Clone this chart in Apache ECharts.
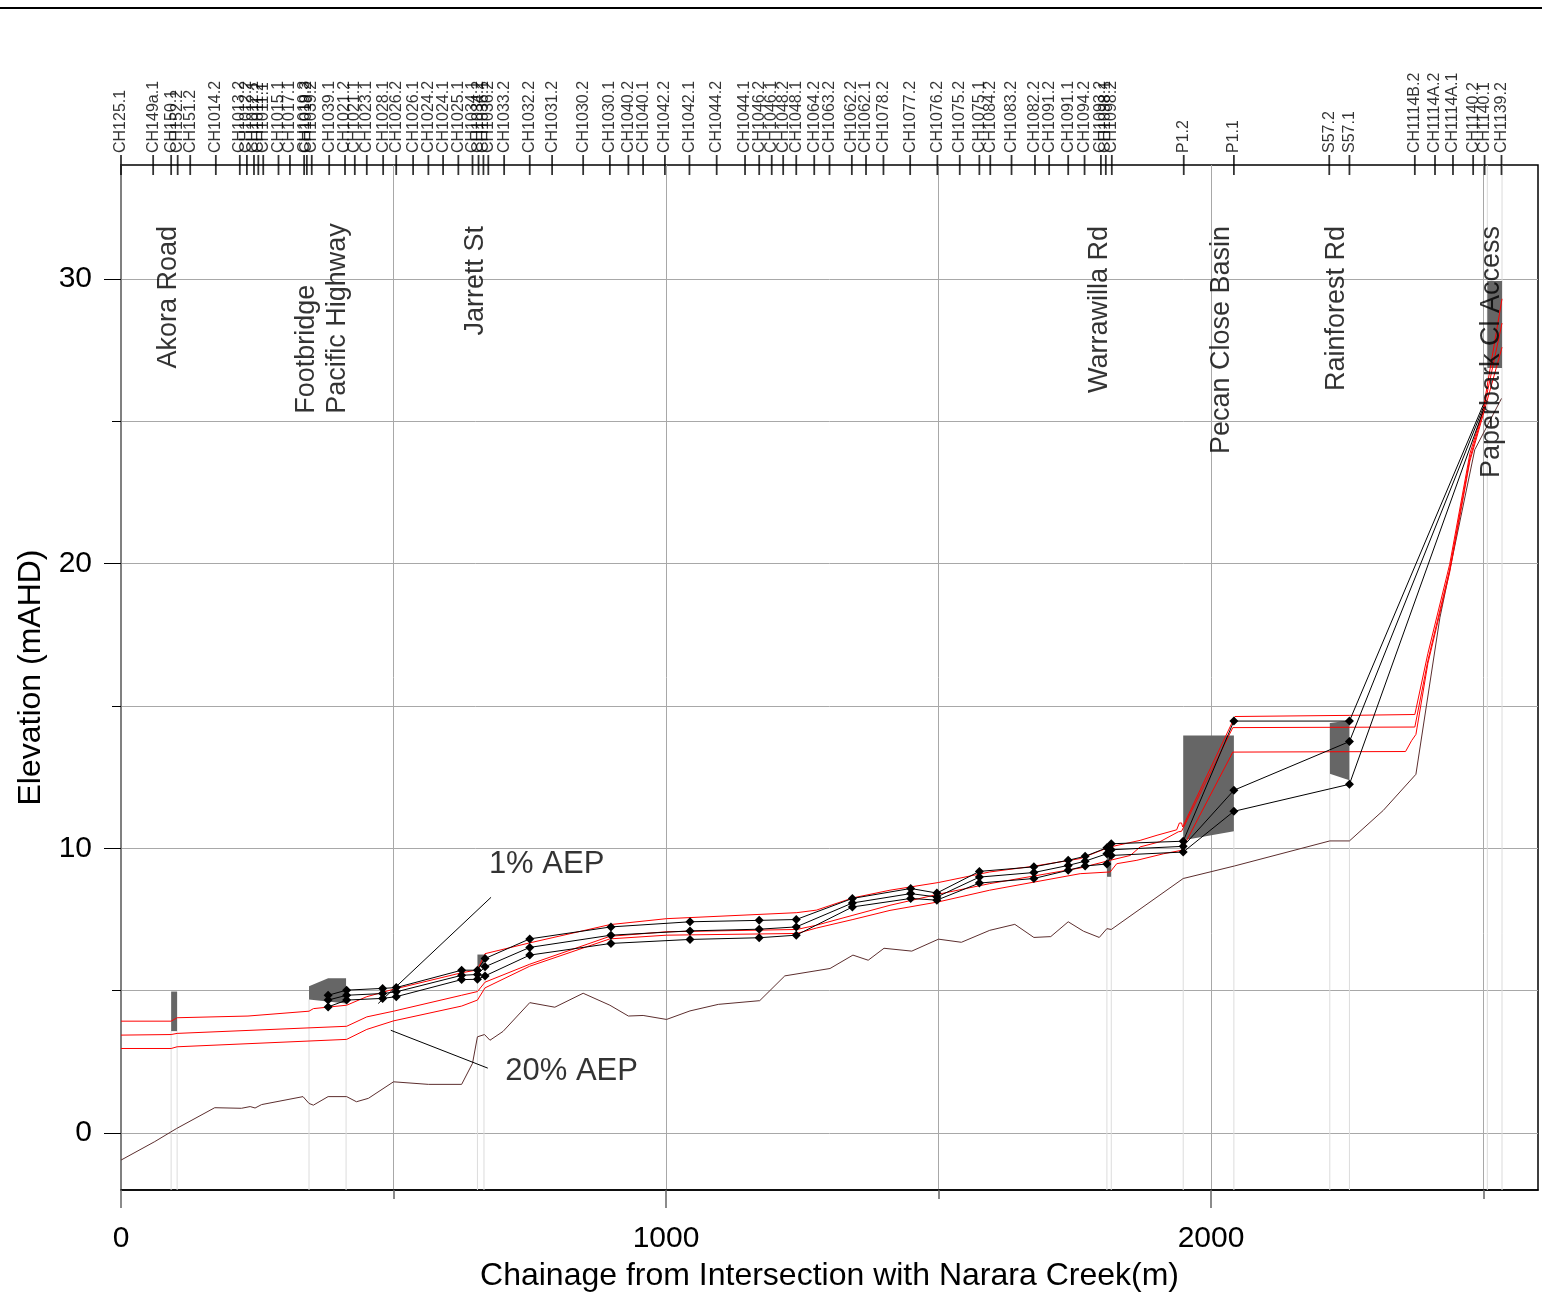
<!DOCTYPE html>
<html><head><meta charset="utf-8">
<script src="https://cdn.jsdelivr.net/npm/echarts@6/dist/echarts.min.js"></script>
<style>html,body{margin:0;padding:0;background:#fff}#c{width:1542px;height:1299px}</style>
</head><body><div id="c"></div>
<script>
const FONT = '"Liberation Sans", Arial, Helvetica, sans-serif';

// ---- Top chainage markers ----
const topNames = ['CH125.1','CH149a.1','CH150.1','CH152.2','CH151.2','CH1014.2','CH1013.2','CH1012.2','CH1012.1','CH1011.2','CH1011.1','CH1015.1','CH1017.1','CH1019.3','CH1019.2','CH1039.2','CH1039.1','CH1021.2','CH1021.1','CH1023.1','CH1028.1','CH1026.2','CH1026.1','CH1024.2','CH1024.1','CH1025.1','CH1034.1','CH1034.2','CH1036.1','CH1036.2','CH1033.2','CH1032.2','CH1031.2','CH1030.2','CH1030.1','CH1040.2','CH1040.1','CH1042.2','CH1042.1','CH1044.2','CH1044.1','CH1046.2','CH1046.1','CH1048.2','CH1048.1','CH1064.2','CH1063.2','CH1062.2','CH1062.1','CH1078.2','CH1077.2','CH1076.2','CH1075.2','CH1075.1','CH1084.2','CH1083.2','CH1082.2','CH1091.2','CH1091.1','CH1094.2','CH1093.2','CH1098.1','CH1098.2','P1.2','P1.1','S57.2','S57.1','CH1114B.2','CH1114A.2','CH1114A.1','CH1140.2','CH1140.1','CH1139.2'];
const topChainage = [0,59,92,104,127,174,218,231,244,252,261,289,310,336,341,350,382,411,429,451,481,505,536,564,591,619,645,656,665,674,703,750,791,848,897,931,958,998,1043,1093,1145,1171,1194,1215,1239,1272,1300,1341,1367,1399,1448,1498,1539,1575,1595,1634,1677,1703,1738,1768,1798,1807,1818,1950,2042,2217,2254,2374,2411,2444,2481,2502,2533];

// ---- Road / structure labels ----
const roadNames = ['Akora Road','Footbridge\nPacific Highway','Jarrett St','Warrawilla Rd','Pecan Close Basin','Rainforest Rd','Paperbark Cl Access'];
const roadChainage = [87,369,650,1796,2020,2231,2514];

// ---- Axis ticks / labels ----
const xLabelValues = [0,1000,2000];
const xTickValues = [0,500,1000,1500,2000,2500];
const yLabelValues = [0,10,20,30];
const yTickValues = [0,5,10,15,20,25,30];

// ---- Ground profile ----
const ground = [[0,-0.95],[62,-0.30],[102,0.16],[172,0.89],[221,0.87],[237,0.93],[246,0.88],[258,1.0],[334,1.28],[345,1.04],[353,0.98],[380,1.28],[414,1.28],[432,1.1],[454,1.22],[500,1.80],[564,1.71],[625,1.71],[645,2.45],[654,3.38],[667,3.46],[677,3.26],[701,3.57],[750,4.58],[796,4.42],[848,4.91],[897,4.49],[931,4.11],[958,4.13],[1001,3.99],[1044,4.29],[1096,4.52],[1172,4.65],[1218,5.52],[1301,5.78],[1343,6.25],[1371,6.07],[1400,6.49],[1451,6.39],[1500,6.81],[1542,6.70],[1594,7.12],[1640,7.33],[1675,6.87],[1706,6.90],[1738,7.42],[1766,7.09],[1795,6.87],[1809,7.18],[1817,7.15],[1949,8.94],[2043,9.38],[2218,10.26],[2254,10.26],[2316,11.33],[2376,12.60],[2420,18.1],[2484,24.0],[2533,25.8]];

// ---- Red flood level profiles ----
const red1 = [[0,3.93],[92,3.93],[103,4.05],[233,4.11],[345,4.28],[353,4.37],[414,4.49],[451,4.79],[500,5.05],[625,5.63],[654,5.73],[668,6.30],[750,6.68],[897,7.32],[1001,7.53],[1240,7.74],[1276,7.83],[1343,8.26],[1411,8.53],[1500,8.80],[1594,9.17],[1674,9.37],[1760,9.64],[1815,10.05],[1870,10.28],[1901,10.46],[1937,10.65],[1942,10.89],[1946,10.89],[1948,10.75],[2044,14.63],[2254,14.67],[2374,14.70],[2398,16.85],[2438,19.98],[2475,23.86],[2499,25.37],[2534,29.3]];
const red2 = [[0,3.44],[92,3.46],[103,3.50],[414,3.75],[451,4.08],[500,4.28],[625,4.84],[654,4.97],[668,5.30],[750,5.93],[897,6.91],[1001,7.07],[1240,7.15],[1276,7.30],[1343,7.65],[1411,8.0],[1500,8.39],[1594,8.76],[1760,9.31],[1815,9.58],[1852,9.75],[1870,10.05],[1906,10.23],[1940,10.58],[1946,10.6],[2040,14.24],[2374,14.26],[2398,16.6],[2438,19.8],[2475,23.7],[2499,25.3],[2534,28.45]];
const red3 = [[0,2.97],[92,2.97],[103,3.03],[414,3.29],[451,3.64],[500,3.94],[625,4.46],[654,4.67],[668,5.10],[750,5.86],[897,6.82],[1001,6.95],[1240,7.01],[1276,7.2],[1343,7.5],[1411,7.82],[1500,8.12],[1594,8.53],[1760,9.11],[1815,9.17],[1827,9.46],[1864,9.58],[1913,9.81],[1946,9.93],[2040,13.38],[2357,13.40],[2368,13.78],[2376,14.0],[2398,16.5],[2438,19.7],[2475,23.6],[2499,25.2],[2534,27.6]];

// ---- Black profiles with markers ----
const blackChainage = [380,414,480,505,625,654,668,750,899,1044,1171,1239,1342,1449,1497,1575,1675,1738,1769,1809,1817,1949,2042,2254,2500];
const black1 = [4.84,5.02,5.08,5.11,5.72,5.72,6.13,6.82,7.24,7.42,7.47,7.50,8.24,8.59,8.43,9.19,9.35,9.58,9.72,10.02,10.16,10.25,14.47,14.47,25.6];
const black2 = [4.67,4.84,4.90,4.96,5.54,5.57,5.84,6.52,6.95,7.10,7.16,7.24,8.08,8.41,8.29,8.99,9.15,9.40,9.55,9.81,9.95,10.07,12.04,13.75,25.5];
const black3 = [4.43,4.67,4.73,4.79,5.39,5.40,5.52,6.25,6.66,6.80,6.86,6.95,7.94,8.24,8.18,8.78,8.94,9.23,9.38,9.45,9.75,9.87,11.30,12.25,25.4];

// ---- Structures (grey polygons) ----
const structAkora = [[92,4.97],[103,4.97],[103,3.58],[92,3.58]];
const structFootbridge = [[345,5.16],[380,5.44],[413,5.44],[413,4.55],[345,4.69]];
const structJarrett = [[654,6.27],[666,6.27],[666,5.84],[654,5.84]];
const structWarrawilla = [[1809,9.82],[1817,9.82],[1817,9.0],[1809,9.0]];
const structPecan = [[1949,13.96],[2042,13.96],[2042,10.6],[1949,10.28]];
const structRainforest = [[2218,14.40],[2254,14.49],[2254,12.39],[2218,12.62]];
const structPaperbark = [[2507,29.93],[2534,29.93],[2534,26.87],[2507,26.87]];
const structures = [structAkora,structFootbridge,structJarrett,structWarrawilla,structPecan,structRainforest,structPaperbark];

// ---- Faint structure drop lines [chainage, top elevation] ----
const dropLines = [[92,3.58],[103,3.58],[345,4.69],[413,4.55],[654,5.84],[666,5.84],[1809,9.0],[1817,9.0],[1949,10.28],[2042,10.6],[2218,12.62],[2254,12.39],[2507,34],[2534,34]];

// ---- Annotations ----
const aepNames = ['1% AEP','20% AEP'];
const aepLabelPos = [[675,9.44],[705,2.18]];
const aepPointer1 = [[679,8.28],[472,4.55]];
const aepPointer2 = [[673,2.28],[495,3.61]];

const Y_MIN = -2, Y_MAX = 34;

const chart = echarts.init(document.getElementById('c'), null, {renderer:'canvas'});

function lineSeries(name, data, color, z){
  return {type:'line', name, data, symbol:'none', showSymbol:false, z,
    lineStyle:{color, width:1}, itemStyle:{color}, silent:true, animation:false};
}
function blackSeries(name, vals){
  return {type:'line', name, z:6, silent:true,
    data: blackChainage.map((c,i)=> i===blackChainage.length-1 ? {value:[c,vals[i]], symbol:'none'} : [c,vals[i]]),
    symbol:'diamond', symbolSize:9, showSymbol:true,
    lineStyle:{color:'#000', width:1}, itemStyle:{color:'#000'}};
}

const option = {
  animation:false,
  backgroundColor:'#fff',
  textStyle:{fontFamily:FONT},
  grid:{left:121, right:4, top:165, bottom:109, show:true, borderColor:'#000', borderWidth:1.5, backgroundColor:'transparent'},
  graphic:[{type:'line', shape:{x1:0,y1:8,x2:1542,y2:8}, style:{stroke:'#000', lineWidth:2}, z:100}],
  xAxis:[
    {type:'value', min:0, max:2600, interval:500,
     name:'Chainage from Intersection with Narara Creek(m)', nameLocation:'middle', nameGap:70,
     nameTextStyle:{fontSize:32, color:'#000', fontFamily:FONT},
     axisLine:{show:true, onZero:false, lineStyle:{color:'#000', width:1.5}},
     axisTick:{show:true, customValues:xTickValues, length:9, lineStyle:{color:'#666', width:1.5}},
     axisLabel:{customValues:xLabelValues, fontSize:30, color:'#000', margin:34, fontFamily:FONT,
       formatter:(v)=>String(v)},
     splitLine:{show:true, lineStyle:{color:'#a8a8a8', width:1}}},
    {type:'value', min:0, max:2600, position:'bottom',
     axisLine:{show:false, onZero:false}, splitLine:{show:false}, axisLabel:{show:false},
     axisTick:{show:true, customValues:xLabelValues, length:18, lineStyle:{color:'#666', width:1.5}}}
  ],
  yAxis:[
    {type:'value', min:Y_MIN, max:Y_MAX, minInterval:5, maxInterval:5,
     name:'Elevation (mAHD)', nameLocation:'middle', nameGap:74,
     nameTextStyle:{fontSize:32, color:'#000', fontFamily:FONT},
     axisLine:{show:true, onZero:false, lineStyle:{color:'#808080', width:2}},
     axisTick:{show:true, customValues:yTickValues, length:9, lineStyle:{color:'#000', width:1}},
     axisLabel:{customValues:yLabelValues, fontSize:30, color:'#000', margin:29, fontFamily:FONT,
       formatter:(v)=>String(v)},
     splitLine:{show:true, lineStyle:{color:'#a8a8a8', width:1}}},
    {type:'value', min:Y_MIN, max:Y_MAX, position:'left',
     axisLine:{show:false, onZero:false}, splitLine:{show:false}, axisLabel:{show:false},
     axisTick:{show:true, customValues:yLabelValues, length:17, lineStyle:{color:'#000', width:1}}}
  ],
  series:[
    {type:'custom', name:'drops', z:1, silent:true, clip:false,
     data: dropLines,
     renderItem(params, api){
       const p1 = api.coord([api.value(0), api.value(1)]);
       const p2 = api.coord([api.value(0), Y_MIN]);
       return {type:'line', shape:{x1:p1[0],y1:p1[1],x2:p2[0],y2:p2[1]}, style:{stroke:'#dcdcdc', lineWidth:1}};
     }},
    {type:'custom', name:'structures', z:2, silent:true, clip:false,
     data: structures.map(s=>[s[0][0], s[0][1]]),
     renderItem(params, api){
       const pts = structures[params.dataIndex].map(p=>api.coord(p));
       return {type:'polygon', shape:{points:pts}, style:{fill:'#666666'}};
     }},
    lineSeries('ground', ground, '#5c2e2e', 3),
    lineSeries('red1', red1, '#ff0000', 4),
    lineSeries('red2', red2, '#ff0000', 4),
    lineSeries('red3', red3, '#ff0000', 4),
    blackSeries('black1', black1),
    blackSeries('black2', black2),
    blackSeries('black3', black3),
    lineSeries('pointer1', aepPointer1, '#000', 7),
    lineSeries('pointer2', aepPointer2, '#000', 7),
    {type:'scatter', name:'aep', z:8, silent:true, symbolSize:0, clip:false,
     data: aepNames.map((n,i)=>({name:n, value:aepLabelPos[i]})),
     label:{show:true, formatter:'{b}', position:'inside', align:'left', verticalAlign:'middle', fontSize:31, color:'#000', fontFamily:FONT}},
    {type:'scatter', name:'roads', z:9, silent:true, symbolSize:0, clip:false,
     data: roadNames.map((n,i)=>{
       const multi = n.indexOf('\n')>=0;
       return {name:n, value:[roadChainage[i], multi ? 25.26 : 31.86],
         label:{align: multi ? 'left' : 'right'}};
     }),
     label:{show:true, formatter:'{b}', position:'inside', rotate:90, verticalAlign:'middle', fontSize:27, lineHeight:31, color:'#000', fontFamily:FONT}},
    {type:'scatter', name:'chainages', z:10, silent:true, clip:false,
     symbol:'rect', symbolSize:[1.8,20], itemStyle:{color:'#000'},
     data: topChainage.map((c,i)=>({name:topNames[i], value:[c, Y_MAX]})),
     label:{show:true, formatter:'{b}', position:'top', distance:2, rotate:90, align:'left', verticalAlign:'middle', fontSize:16, color:'#000', fontFamily:FONT},
     labelLayout:{hideOverlap:false}}
  ]
};
chart.setOption(option);
</script></body></html>
